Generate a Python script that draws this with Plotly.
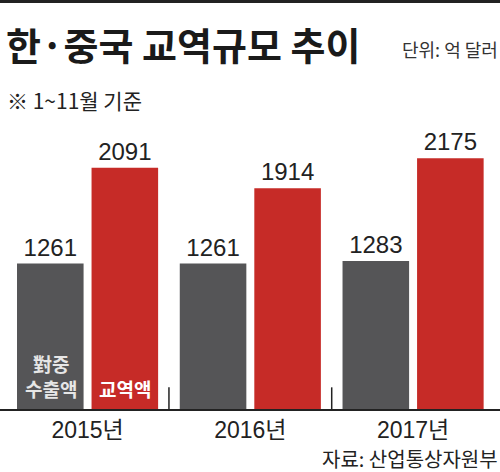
import plotly.graph_objects as go

# 한·중국 교역규모 추이 (단위: 억 달러, 1~11월 기준)
years = ["2015년", "2016년", "2017년"]
exports_to_china = [1261, 1261, 1283]
trade_total = [2091, 1914, 2175]

NUM_FONT = "Liberation Sans, Arial, Noto Sans CJK KR, sans-serif"
KR_FONT = "Noto Sans CJK KR, sans-serif"
GRAY = "#555557"
RED = "#c62b27"

fig = go.Figure()
fig.add_trace(go.Bar(x=years, y=exports_to_china, name="對중 수출액",
                     marker=dict(color=GRAY, line=dict(width=0)),
                     text=[str(v) for v in exports_to_china], textposition="outside",
                     textfont=dict(family=NUM_FONT, size=24, color="#222222"),
                     cliponaxis=False))
fig.add_trace(go.Bar(x=years, y=trade_total, name="교역액",
                     marker=dict(color=RED, line=dict(width=0)),
                     text=[str(v) for v in trade_total], textposition="outside",
                     textfont=dict(family=NUM_FONT, size=24, color="#222222"),
                     cliponaxis=False))

fig.update_layout(
    width=500, height=472,
    margin=dict(l=0, r=0, t=120, b=63),
    paper_bgcolor="white", plot_bgcolor="white",
    barmode="group", bargap=0.084, bargroupgap=0.107,
    showlegend=False,
)
fig.update_xaxes(range=[-0.538, 2.534], showgrid=False, zeroline=False,
                 showline=True, linecolor="#222222", linewidth=1.5,
                 ticks="", tickfont=dict(family=NUM_FONT, size=23, color="#222222"))
fig.update_yaxes(range=[0, 2506], visible=False)

# separators between years
for xpos in [0.5, 1.5]:
    fig.add_shape(type="line", xref="x", yref="paper", x0=xpos, x1=xpos, y0=0, y1=0.075,
                  line=dict(color="#222222", width=1.5))

# black rule at the top
fig.add_shape(type="rect", xref="paper", yref="paper", x0=0, x1=1, y0=1.405, y1=1.45,
              fillcolor="#222222", line=dict(width=0), layer="above")

# in-bar labels
fig.add_annotation(x=years[0], y=0, xref="x", yref="y", xshift=-37, yshift=5,
                   text="<b>對중<br>수출액</b>", showarrow=False, yanchor="bottom", align="center",
                   font=dict(family=KR_FONT, size=19, color="#e6e6e6"))
fig.add_annotation(x=years[0], y=0, xref="x", yref="y", xshift=37, yshift=5,
                   text="<b>교역액</b>", showarrow=False, yanchor="bottom", align="center",
                   font=dict(family=KR_FONT, size=19, color="white"))

# title and notes
fig.add_annotation(x=0.008, y=1.266, xref="paper", yref="paper", text="<b>한·중국 교역규모 추이</b>",
                   showarrow=False, xanchor="left", yanchor="middle",
                   font=dict(family=KR_FONT, size=38, color="#1a1a1a"))
fig.add_annotation(x=1.0, y=1.246, xref="paper", yref="paper", text="단위: 억 달러",
                   showarrow=False, xanchor="right", yanchor="middle",
                   font=dict(family=KR_FONT, size=18, color="#333333"))
fig.add_annotation(x=0.01, y=1.069, xref="paper", yref="paper", text="※ 1~11월 기준",
                   showarrow=False, xanchor="left", yanchor="middle",
                   font=dict(family=KR_FONT, size=21, color="#222222"))
fig.add_annotation(x=1.0, y=-0.17, xref="paper", yref="paper", text="자료: 산업통상자원부",
                   showarrow=False, xanchor="right", yanchor="middle",
                   font=dict(family=KR_FONT, size=20, color="#222222"))

fig.write_html("out.html", config={"displayModeBar": False},
               post_script="document.body.style.margin='0';")
